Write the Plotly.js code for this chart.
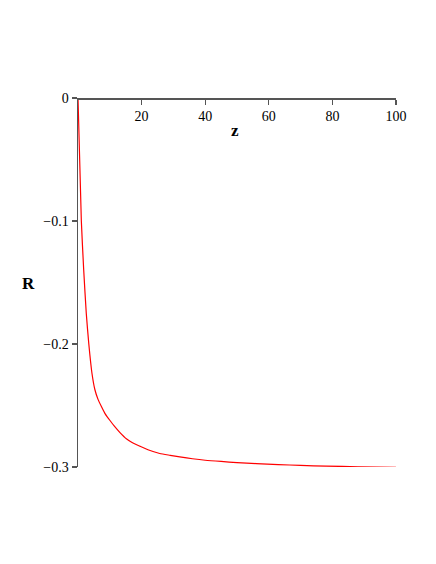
<!DOCTYPE html>
<html>
<head>
<meta charset="utf-8">
<script src="https://cdn.plot.ly/plotly-3.0.1.min.js"></script>
<style>html,body{margin:0;padding:0;background:#fff;}#chart{width:436px;height:564px;}</style>
</head>
<body>
<div id="chart"></div>
<script>
var zVals = [0, 1.05, 1.8, 2.6, 3.4, 4.4, 5.3, 6.3, 7.4, 8.6, 10, 11.5, 13.2, 15.2, 17, 19.4, 22, 25.7, 29, 32, 36, 40, 45, 50, 56, 63, 70, 78, 88, 100];
var rVals = [0, -0.1, -0.14, -0.175, -0.2, -0.224, -0.237, -0.245, -0.251, -0.257, -0.262, -0.267, -0.272, -0.277, -0.280, -0.283, -0.286, -0.289, -0.2905, -0.2918, -0.2933, -0.2945, -0.2955, -0.2964, -0.2972, -0.2980, -0.2987, -0.2993, -0.2998, -0.3002];
var xTickVals = [20, 40, 60, 80, 100];
var xTickText = ['20', '40', '60', '80', '100'];
var yTickVals = [0, -0.1, -0.2, -0.3];
var yTickText = ['0', '\u22120.1', '\u22120.2', '\u22120.3'];
var xLabel = 'z';
var yLabel = 'R';

var font = {family: '"Liberation Serif", "Times New Roman", serif', size: 14, color: '#000'};

Plotly.newPlot('chart', [{
  x: zVals, y: rVals, type: 'scatter', mode: 'lines',
  line: {color: '#ff0000', width: 1.2, shape: 'spline', smoothing: 0.6}, cliponaxis: false, hoverinfo: 'none'
}], {
  width: 436, height: 564,
  margin: {l: 78, r: 40, t: 98, b: 97},
  paper_bgcolor: '#fff', plot_bgcolor: '#fff',
  showlegend: false,
  font: font,
  xaxis: {
    range: [0, 100], anchor: 'free', position: 1, side: 'bottom',
    showgrid: false, zeroline: false, showline: true, linecolor: '#555', linewidth: 1.5,
    ticks: 'outside', ticklen: 5, tickwidth: 1.3, tickcolor: '#555',
    tickvals: xTickVals, ticktext: xTickText, tickfont: font
  },
  yaxis: {
    range: [-0.3, 0],
    showgrid: false, zeroline: false, showline: true, linecolor: '#555', linewidth: 1.5,
    ticks: 'outside', ticklen: 5, tickwidth: 1.3, tickcolor: '#555',
    tickvals: yTickVals, ticktext: yTickText, tickfont: font
  },
  annotations: [
    {text: xLabel, xref: 'paper', yref: 'paper', x: 0.494, y: 0.911, xanchor: 'center', yanchor: 'middle', showarrow: false,
     font: {family: font.family, size: 17, color: '#000', weight: 'bold'}},
    {text: yLabel, xref: 'paper', yref: 'paper', x: -0.156, y: 0.496, xanchor: 'center', yanchor: 'middle', showarrow: false,
     font: {family: font.family, size: 17, color: '#000', weight: 'bold'}}
  ]
}, {displayModeBar: false, staticPlot: true});
</script>
</body>
</html>
